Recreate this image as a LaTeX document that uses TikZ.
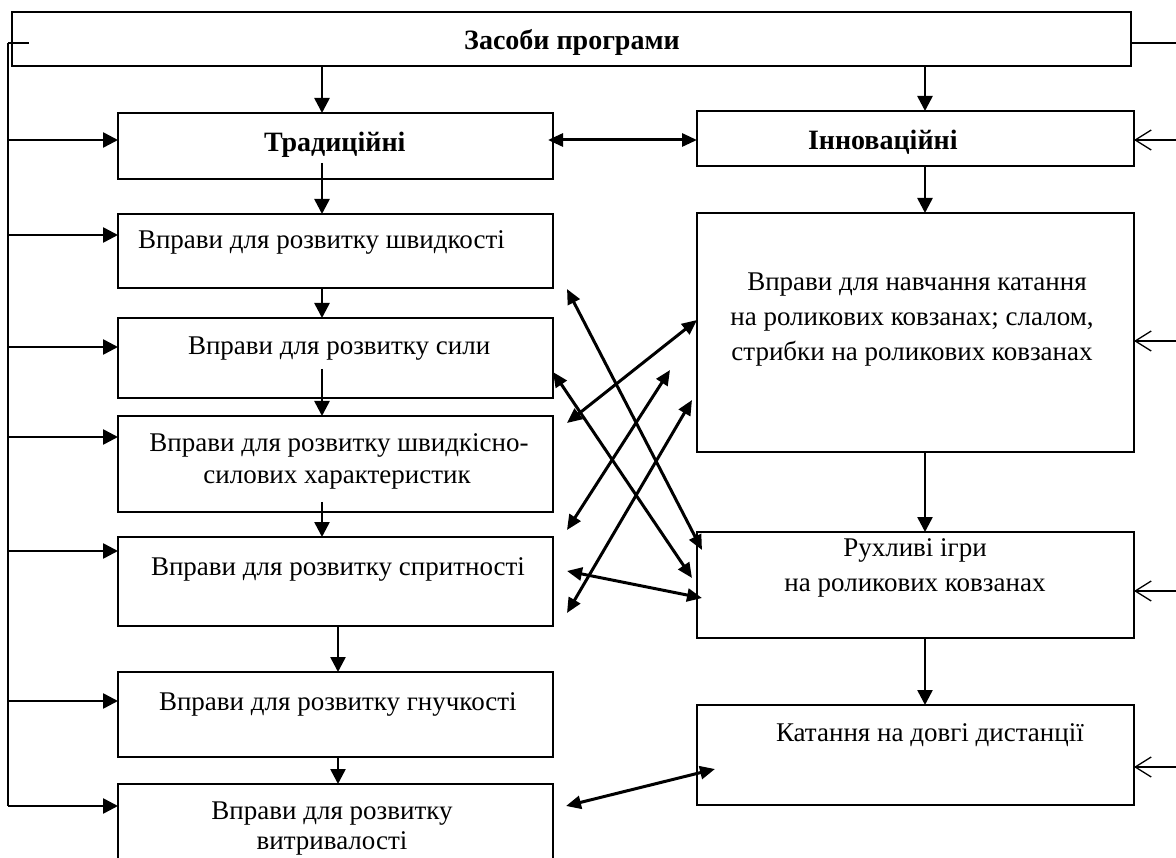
\documentclass[tikz,border=0pt]{standalone}
\usepackage{fontspec}
\setmainfont{Liberation Serif}
\usetikzlibrary{arrows.meta}

\begin{document}
\begin{tikzpicture}[x=1pt, y=-1pt, line width=2pt,
  box/.style={draw, rectangle, inner sep=0pt, outer sep=0pt, anchor=north west},
  txt/.style={font=\fontsize{27}{35}\selectfont, inner sep=0pt, anchor=base},
  head/.style={font=\fontsize{28}{32}\selectfont\bfseries, inner sep=0pt, anchor=base},
  link/.style={line width=2.6pt, -{Triangle[length=15pt,width=15pt]}},
  both/.style={line width=3pt, {Triangle[length=15pt,width=13pt]}-{Triangle[length=15pt,width=13pt]}},
  feed/.style={line width=1.3pt, -{Straight Barb[length=16pt,width=20pt]}}]
        \useasboundingbox (0,0) rectangle (1176,858);

        % boxes
        \node[box, minimum width=1119, minimum height=54] (top) at (12,12) {};
        \node[box, minimum width=435, minimum height=66] (trad) at (118,113) {};
        \node[box, minimum width=437, minimum height=55] (inn) at (697,111) {};
        \node[box, minimum width=435, minimum height=74] (b1) at (118,214) {};
        \node[box, minimum width=435, minimum height=80] (b2) at (118,318) {};
        \node[box, minimum width=435, minimum height=96] (b3) at (118,416) {};
        \node[box, minimum width=435, minimum height=89] (b4) at (118,537) {};
        \node[box, minimum width=435, minimum height=85] (b5) at (118,672) {};
        \node[box, minimum width=435, minimum height=84] (b6) at (118,784) {};
        \node[box, minimum width=437, minimum height=239] (r1) at (697,213) {};
        \node[box, minimum width=437, minimum height=106] (r2) at (697,532) {};
        \node[box, minimum width=437, minimum height=100] (r3) at (697,705) {};

        % texts
        \node[head] (ltop) at (572,50) {Засоби програми};
        \node[head, anchor=base west] (ltrad) at (263,152) {Традиційні};
        \node[head, anchor=base west] (linn) at (807,150) {Інноваційні};
        \node[txt, anchor=base west] (l1) at (137,249) {Вправи для розвитку швидкості};
        \node[txt, anchor=base west] (l2) at (187,355) {Вправи для розвитку сили};
        \node[txt] (l3a) at (339,452) {Вправи для розвитку швидкісно-};
        \node[txt] (l3b) at (337,484) {силових характеристик};
        \node[txt, anchor=base west] (l4) at (150,575) {Вправи для розвитку спритності};
        \node[txt, anchor=base west] (l5) at (158,710) {Вправи для розвитку гнучкості};
        \node[txt] (l6a) at (332,819) {Вправи для розвитку};
        \node[txt] (l6b) at (332,849) {витривалості};
        \node[txt] (lr1a) at (917,291) {Вправи для навчання катання};
        \node[txt] (lr1b) at (912,326) {на роликових ковзанах; слалом,};
        \node[txt] (lr1c) at (912,361) {стрибки на роликових ковзанах};
        \node[txt] (lr2a) at (915,556) {Рухливі ігри};
        \node[txt] (lr2b) at (915,591) {на роликових ковзанах};
        \node[txt, anchor=base west] (lr3) at (775,741) {Катання на довгі дистанції};

        \coordinate (cL) at (322,0);
        \coordinate (cM) at (338,0);
        \coordinate (cR) at (925,0);
        \coordinate (s0) at (322,163);
        \coordinate (s2) at (322,369);
        \coordinate (s3) at (322,502);
        \coordinate (busT) at (8,43);
        \coordinate (busB) at (8,806);

        % main flow
        \draw[link] (top.south -| cL) -- (trad.north -| cL);
        \draw[link] (s0) -- (b1.north -| cL);
        \draw[link] (b1.south -| cL) -- (b2.north -| cL);
        \draw[link] (s2) -- (b3.north -| cL);
        \draw[link] (s3) -- (b4.north -| cL);
        \draw[link] (b4.south -| cM) -- (b5.north -| cM);
        \draw[link] (b5.south -| cM) -- (b6.north -| cM);

        \draw[link] (top.south -| cR) -- (inn.north -| cR);
        \draw[link] (inn.south -| cR) -- (r1.north -| cR);
        \draw[link] (r1.south -| cR) -- (r2.north -| cR);
        \draw[link] (r2.south -| cR) -- (r3.north -| cR);

        \draw[both] (548,140) -- (inn.west |- 0,140);

        % left bus
        \draw[line width=2.6pt] (busT) -- (busB);
        \draw[line width=1.8pt] (busT) -- ++(21,0);
        \foreach \y/\n in {140/trad,235/b1,347/b2,437/b3,551/b4,701/b5,806/b6}
            \draw[link] (8,\y) -- (\n.west |- 8,\y);

        % right side
        \draw[line width=1.3pt] (top.east |- 0,43) -- (1176,43);
        \foreach \y/\n in {140/inn,341/r1,591/r2,767/r3}
            \draw[feed] (1176,\y) -- (\n.east |- 1176,\y);

        % cross links
        \coordinate (x1s) at (567,289);
        \coordinate (x1e) at (702,550);
        \coordinate (x2s) at (553,372);
        \coordinate (x2e) at (692,578);
        \coordinate (x3s) at (567,423);
        \coordinate (x3e) at (697,320);
        \coordinate (x4s) at (567,530);
        \coordinate (x4e) at (670,370);
        \coordinate (x5s) at (567,613);
        \coordinate (x5e) at (692,400);
        \coordinate (x6s) at (567,571);
        \coordinate (x6e) at (702,598);
        \coordinate (x7s) at (566,806);
        \coordinate (x7e) at (715,769);

        \draw[both] (x1s) -- (x1e);
        \draw[both] (x2s) -- (x2e);
        \draw[both] (x3s) -- (x3e);
        \draw[both] (x4s) -- (x4e);
        \draw[both] (x5s) -- (x5e);
        \draw[both] (x6s) -- (x6e);
        \draw[both] (x7s) -- (x7e);
\end{tikzpicture}
\end{document}
